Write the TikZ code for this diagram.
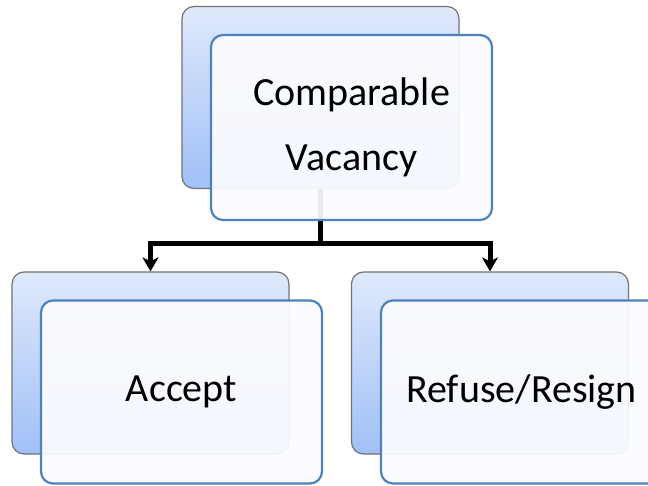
\documentclass[tikz,border=0pt]{standalone}
\usepackage{fontspec}
\setmainfont{Carlito}
\usetikzlibrary{arrows.meta}
\begin{document}
\begin{tikzpicture}[x=1pt,y=-1pt,
  backbox/.style={draw=black!55, line width=1.2pt, rounded corners=12pt,
    top color={rgb,255:red,223;green,233;blue,251}, bottom color={rgb,255:red,160;green,192;blue,247},
    minimum width=277pt, minimum height=182pt, inner sep=0pt},
  frontbox/.style={draw={rgb,255:red,79;green,129;blue,189}, line width=2.2pt, rounded corners=12pt,
    fill={rgb,255:red,251;green,252;blue,255}, fill opacity=0.93, text opacity=1,
    minimum width=281pt, minimum height=183pt, inner sep=0pt, align=center,
    font=\fontsize{40}{65}\selectfont},
  conn/.style={line width=5pt, black},
  tip/.style={-{Stealth[width=16pt,length=14pt,inset=4pt]}}
]
\useasboundingbox (0,0) rectangle (648,485);
\clip (0,0) rectangle (648,485);
\fill[white] (0,0) rectangle (648,485);
% back boxes
\node[backbox] (tb) at (320.5,97.5) {};
\node[backbox] (lb) at (150.5,363) {};
\node[backbox] (rb) at (490,363) {};
% connectors
\draw[conn] (tb.south) -- (320.5,243) coordinate (j);
\draw[conn,tip] ([xshift=2.5pt]j) -| (lb.north);
\draw[conn,tip] ([xshift=-2.5pt]j) -| (rb.north);
% front boxes
\node[frontbox, minimum height=185pt] (tf) at (351.5,127.5) {Comparable\\Vacancy};
\node[frontbox] (lf) at (181.5,392) {Accept};
\node[frontbox] (rf) at (521.5,392) {Refuse/Resign};
\end{tikzpicture}
\end{document}
